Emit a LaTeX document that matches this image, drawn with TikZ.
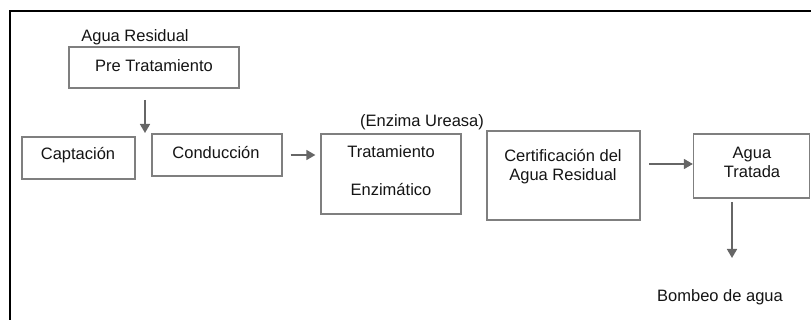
\documentclass[tikz,border=0pt]{standalone}
\usepackage{fontspec}
\setmainfont{Liberation Sans}
\usetikzlibrary{arrows.meta}
\definecolor{boxgray}{HTML}{7F7F7F}
\definecolor{txtgray}{HTML}{141414}
\definecolor{arrgray}{HTML}{666666}
\tikzset{
  box/.style={draw=boxgray, line width=1.3pt, rectangle, inner sep=0pt},
  txt/.style={text=txtgray, font=\fontsize{16.5}{19}\selectfont, align=center, inner sep=0pt},
  flow/.style={draw=arrgray, line width=1.6pt, -{Triangle[length=9pt,width=10pt]}},
  frame/.style={draw=black, line width=2.2pt}
}
\begin{document}
\begin{tikzpicture}[x=1pt,y=-1pt]
\useasboundingbox (0,0) rectangle (811,320);
% frame (right and bottom sides lie outside the picture)
\draw[frame] (10,330) -- (10,11) -- (830,11);
% boxes
\node[box, minimum width=170pt, minimum height=41pt] (pre) at (154,67.5) {};
\node[box, minimum width=113pt, minimum height=42pt] (capt) at (78.5,158) {};
\node[box, minimum width=130pt, minimum height=42pt] (cond) at (217,155) {};
\node[box, minimum width=140pt, minimum height=80pt] (trat) at (391,174) {};
\node[box, minimum width=153pt, minimum height=89pt] (cert) at (563.5,175.5) {};
\node[box, minimum width=116pt, minimum height=64pt] (agua) at (751.5,166) {};
% texts
\node[txt] (tagres) at (135,37) {Agua Residual};
\node[txt] (tpre) at (154,66) {Pre Tratamiento};
\node[txt] (tcapt) at (78,155) {Captación};
\node[txt] (tcond) at (216,153) {Conducción};
\node[txt] (tenz) at (422,122) {(Enzima Ureasa)};
\node[txt] (ttrat1) at (391,152) {Tratamiento};
\node[txt] (ttrat2) at (391,190) {Enzimático};
\node[txt] (tcert) at (563,167) {Certificación del\\Agua Residual};
\node[txt] (tagua) at (752,162) {Agua\\Tratada};
\node[txt] (tbomb) at (720,297) {Bombeo de agua};
% connectors
\coordinate (c1) at (145,100);
\coordinate (c2) at (145,133);
\draw[flow] (c1) -- (c2);
\draw[flow, shorten <=8pt, shorten >=5pt] (cond.east) -- (cond.east -| trat.west);
\coordinate (c3) at (649,164);
\draw[flow] (c3) -- (c3 -| agua.west);
\coordinate (c4) at (732,202);
\coordinate (c5) at (732,258);
\draw[flow] (c4) -- (c5);
\end{tikzpicture}
\end{document}
